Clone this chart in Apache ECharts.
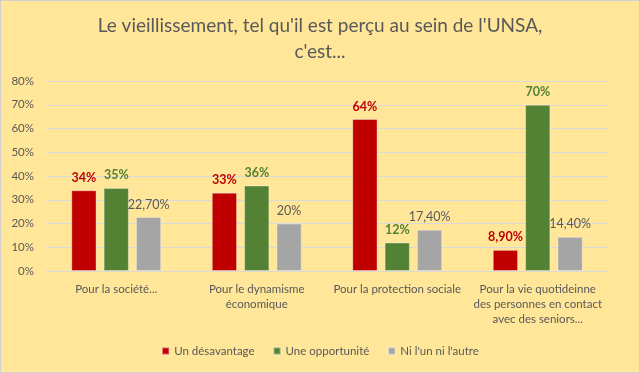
<!DOCTYPE html>
<html><head><meta charset="utf-8">
<script src="https://cdn.jsdelivr.net/npm/echarts@6/dist/echarts.min.js"></script>
<style>html,body{margin:0;padding:0;background:#fff}#c{position:absolute;left:0;top:0;width:638px;height:371px;border:1px solid #d0d0d0;background:#FFE699}</style>
</head><body><div id="c"></div>
<script>
const categories = ["Pour la société...", "Pour le dynamisme\néconomique", "Pour la protection sociale", "Pour la vie quotideinne\ndes personnes en contact\navec des seniors..."];
const seriesNames = ["Un désavantage", "Une opportunité", "Ni l'un ni l'autre"];
const desavantage = [34, 33, 64, 8.9];
const opportunite = [35, 36, 12, 70];
const niLunNiLautre = [22.7, 20, 17.4, 14.4];
const desavantageLabels = ["34%", "33%", "64%", "8,90%"];
const opportuniteLabels = ["35%", "36%", "12%", "70%"];
const niLabels = ["22,70%", "20%", "17,40%", "14,40%"];
const yTicks = [0, 10, 20, 30, 40, 50, 60, 70, 80];

const FONT = "Lato";
const chart = echarts.init(document.getElementById('c'));
function mk(name, data, labels, color, labelColor, bold) {
  return {
    name, type: 'bar', data, barGap: '28%', barCategoryGap: '36%',
    itemStyle: { color, borderColor: 'rgba(255,255,255,0.35)', borderWidth: 1 },
    label: { show: true, position: 'top', distance: 6, color: labelColor, fontFamily: FONT,
      fontSize: 12.5, fontWeight: bold ? 'bold' : 'normal',
      formatter: p => labels[p.dataIndex] }
  };
}
chart.setOption({
  animation: false,
  title: { text: "Le vieillissement, tel qu'il est perçu au sein de l'UNSA,\nc'est...", left: 'center', top: 7,
    textStyle: { fontFamily: FONT, fontSize: 19, fontWeight: 'normal', color: '#595959', lineHeight: 26 } },
  grid: { left: 45, right: 31, top: 80, bottom: 101, containLabel: false },
  legend: { bottom: 10, left: 'center', itemWidth: 7, itemHeight: 7, itemGap: 18, icon: 'rect',
    textStyle: { fontFamily: FONT, fontSize: 11.5, color: '#595959' }, data: seriesNames },
  xAxis: { type: 'category', data: categories,
    axisLine: { lineStyle: { color: '#D9D9D9' } }, axisTick: { show: false },
    axisLabel: { interval: 0, color: '#595959', fontFamily: FONT, fontSize: 11.5, lineHeight: 15, margin: 11 } },
  yAxis: { type: 'value', min: 0, max: 80, interval: 10,
    axisLabel: { color: '#595959', fontFamily: FONT, fontSize: 11.5, formatter: v => v + '%', margin: 12 },
    splitLine: { lineStyle: { color: '#D9D9D9' } }, axisLine: { show: false }, axisTick: { show: false } },
  series: [
    mk(seriesNames[0], desavantage, desavantageLabels, '#C00000', '#C00000', true),
    mk(seriesNames[1], opportunite, opportuniteLabels, '#548235', '#548235', true),
    mk(seriesNames[2], niLunNiLautre, niLabels, '#A5A5A5', '#595959', false)
  ]
});
</script></body></html>
